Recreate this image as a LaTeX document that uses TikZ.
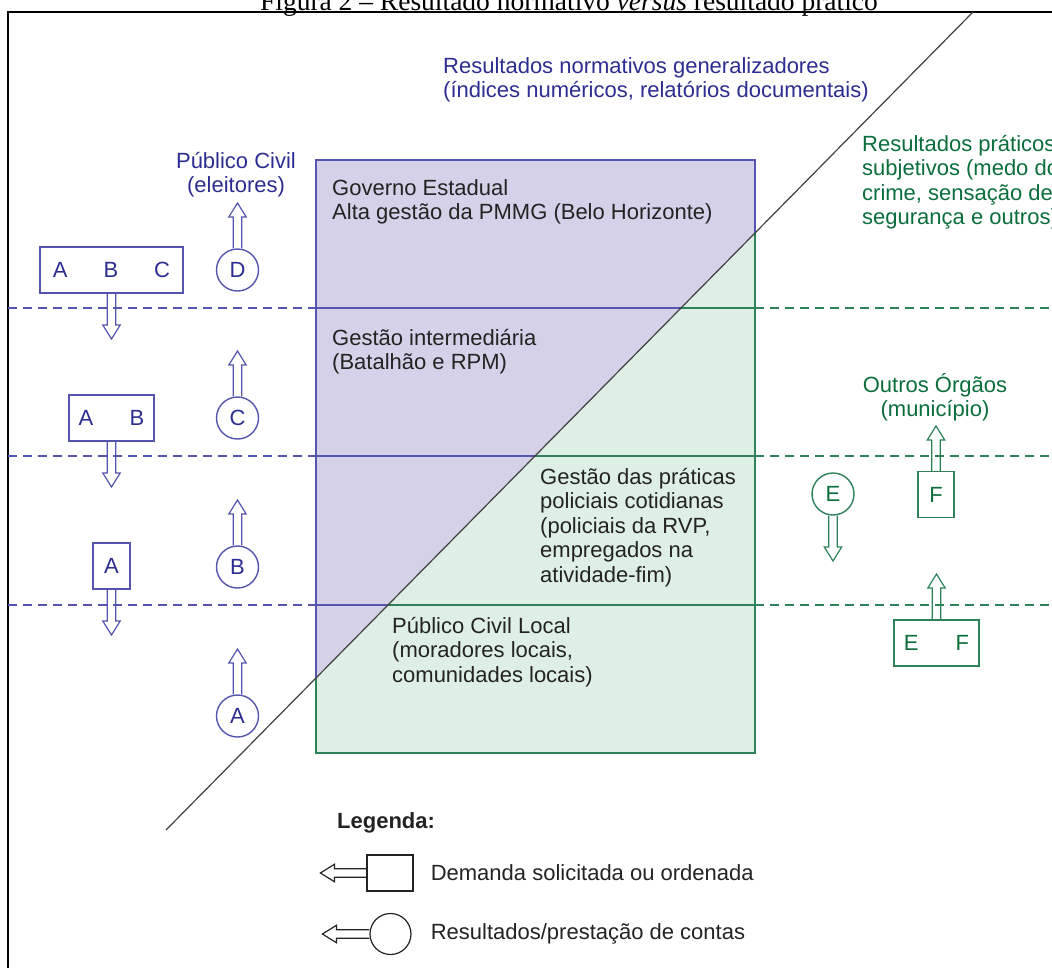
\documentclass[tikz,border=0pt]{standalone}
\usepackage{fontspec}
\setmainfont{Liberation Sans}
\newfontfamily\titlefont{Liberation Serif}
\usetikzlibrary{calc, positioning}

\definecolor{blueText}{RGB}{45,45,145}
\definecolor{blueLine}{RGB}{85,85,175}
\definecolor{purpleFill}{RGB}{212,209,232}
\definecolor{greenText}{RGB}{10,110,60}
\definecolor{greenLine}{RGB}{45,130,90}
\definecolor{greenFill}{RGB}{222,240,230}
\definecolor{darkText}{RGB}{35,35,35}

\newcommand{\diagfont}{\fontsize{22pt}{24.4pt}\selectfont}

% hollow block arrow from #2 to #3
\newcommand{\blockarrow}[3][]{%
  \coordinate (ba-h) at ($(#3)!14pt!(#2)$);
  \draw[hollow arrow, #1]
    ($(#2)!4.3pt!90:(#3)$) -- ($(ba-h)!4.3pt!90:(#3)$) -- ($(ba-h)!8.7pt!90:(#3)$) -- (#3)
    -- ($(ba-h)!8.7pt!-90:(#3)$) -- ($(ba-h)!4.3pt!-90:(#3)$) -- ($(#2)!4.3pt!-90:(#3)$);
}

\begin{document}
\begin{tikzpicture}[
  x=1pt, y=-1pt,
  every node/.style={font=\diagfont, inner sep=0pt},
  demand/.style={rectangle, draw, line width=1.4pt, minimum height=46pt},
  result/.style={circle, draw, line width=1.4pt, minimum size=42pt},
  hollow arrow/.style={line width=1.2pt, line join=miter},
  blocktext/.style={align=left, anchor=north west},
  bandline/.style={line width=1.4pt},
  dashline/.style={line width=1.3pt, dash pattern=on 9pt off 6pt}
]
\useasboundingbox (0,0) rectangle (1052,967);
\clip (0,0) rectangle (1052,967);

% Caption and frame
\node[font=\titlefont\fontsize{27.5pt}{30pt}\selectfont, anchor=base, text=black] (title) at (569,10)
  {Figura 2 – Resultado normativo \textit{versus} resultado prático};
\draw[line width=2pt] (8,1000) -- (8,12) -- (1100,12);

% Central box
\fill[purpleFill] (316,160) -- (755,160) -- (755,233) -- (316,678) -- cycle;
\fill[greenFill] (316,678) -- (755,233) -- (755,753) -- (316,753) -- cycle;

\foreach \yy/\xx in {308/681, 456/535, 605/388} {
  \draw[bandline, blueLine] (316,\yy) -- (\xx,\yy);
  \draw[bandline, greenLine] (\xx,\yy) -- (755,\yy);
  \draw[dashline, blueLine] (8,\yy) -- (316,\yy);
  \draw[dashline, greenLine] (755,\yy) -- (1060,\yy);
}
\draw[bandline, blueLine] (316,678) -- (316,160) -- (755,160) -- (755,233);
\draw[bandline, greenLine] (755,233) -- (755,753) -- (316,753) -- (316,678);

\draw[line width=1.2pt, black!75] (166,830) -- (973,12);

% Texts
\node[blocktext, text=blueText] (normativo) at (443,57)
  {Resultados normativos generalizadores\\(índices numéricos, relatórios documentais)};
\node[blocktext, text=greenText] (praticos) at (862,135)
  {Resultados práticos\\subjetivos (medo do\\crime, sensação de\\segurança e outros)};
\node[blocktext, text=darkText] (governo) at (332,179)
  {Governo Estadual\\Alta gestão da PMMG (Belo Horizonte)};
\node[blocktext, text=darkText] (intermediaria) at (332,329)
  {Gestão intermediária\\(Batalhão e RPM)};
\node[blocktext, text=darkText] (praticas) at (540,468)
  {Gestão das práticas\\policiais cotidianas\\(policiais da RVP,\\empregados na\\atividade-fim)};
\node[blocktext, text=darkText] (local) at (392,617)
  {Público Civil Local\\(moradores locais,\\comunidades locais)};
\node[align=center, anchor=north, text=blueText] (eleitores) at (236,152) {Público Civil\\(eleitores)};
\node[align=center, anchor=north, text=greenText] (orgaos) at (935,373) {Outros Órgãos\\(município)};

% Demands (left)
\node[demand, draw=blueLine, text=blueText, minimum width=143pt] (dABC) at (111.5,270) {A\hspace{36pt}B\hspace{36pt}C};
\node[demand, draw=blueLine, text=blueText, minimum width=85pt] (dAB) at (111.5,418) {A\hspace{36.5pt}B};
\node[demand, draw=blueLine, text=blueText, minimum width=37pt] (dA) at (111.5,566) {A};
\coordinate (tABC) at (111.5,339);
\coordinate (tAB) at (111.5,487);
\coordinate (tA) at (111.5,635);
\blockarrow[blueLine]{dABC.south}{tABC}
\blockarrow[blueLine]{dAB.south}{tAB}
\blockarrow[blueLine]{dA.south}{tA}

% Results (left)
\foreach \name/\yy in {D/270, C/418, B/567, A/716} {
  \node[result, draw=blueLine, text=blueText] (r\name) at (237.5,\yy) {\name};
  \coordinate (t\name) at (237.5,\yy-67);
  \blockarrow[blueLine]{r\name.north}{t\name}
}

% Right side
\node[result, draw=greenLine, text=greenText] (rE) at (833,494) {E};
\coordinate (tE) at (833,561);
\blockarrow[greenLine]{rE.south}{tE}
\node[demand, draw=greenLine, text=greenText, minimum width=36pt] (dF) at (936,494.5) {F};
\coordinate (tF) at (936,426);
\blockarrow[greenLine]{dF.north}{tF}
\node[demand, draw=greenLine, text=greenText, minimum width=85pt] (dEF) at (936.5,643) {E\hspace{37pt}F};
\coordinate (tEF) at (936.5,574);
\blockarrow[greenLine]{dEF.north}{tEF}

% Legend
\node[anchor=north west, font=\diagfont\bfseries, text=darkText] (legenda) at (337,812) {Legenda:};
\node[demand, draw=darkText, line width=1.2pt, minimum width=46pt, minimum height=36pt] (legDemand) at (390,873) {};
\coordinate[left=46pt of legDemand.west] (legDemandTip);
\blockarrow[darkText]{legDemand.west}{legDemandTip}
\node[right=17pt of legDemand, text=darkText] (legDemandText) {Demanda solicitada ou ordenada};
\node[result, draw=darkText, line width=1.2pt, minimum size=41pt] (legResult) at (390.5,934) {};
\coordinate[left=47pt of legResult.west] (legResultTip);
\blockarrow[darkText]{legResult.west}{legResultTip}
\node[right=19pt of legResult, text=darkText] (legResultText) {Resultados/prestação de contas};
\end{tikzpicture}
\end{document}
